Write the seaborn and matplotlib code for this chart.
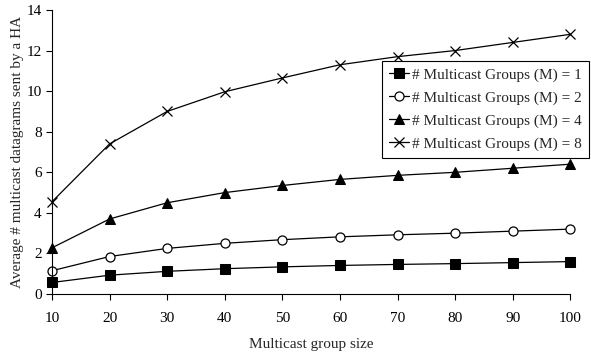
import matplotlib
matplotlib.use("Agg")
import matplotlib.pyplot as plt
import seaborn as sns
import pandas as pd

sns.set_style("ticks")
plt.rcParams['font.family'] = ['Liberation Serif', 'DejaVu Serif']

group_size = [10, 20, 30, 40, 50, 60, 70, 80, 90, 100]
m1 = [0.57, 0.93, 1.12, 1.25, 1.34, 1.41, 1.46, 1.50, 1.55, 1.60]
m2 = [1.15, 1.85, 2.25, 2.50, 2.68, 2.82, 2.92, 3.00, 3.10, 3.20]
m4 = [2.28, 3.70, 4.50, 5.00, 5.35, 5.65, 5.85, 6.00, 6.20, 6.40]
m8 = [4.55, 7.40, 9.00, 9.97, 10.65, 11.30, 11.70, 12.00, 12.40, 12.80]
labels = ["# Multicast Groups (M) = 1", "# Multicast Groups (M) = 2",
          "# Multicast Groups (M) = 4", "# Multicast Groups (M) = 8"]
x_ticks = [10, 20, 30, 40, 50, 60, 70, 80, 90, 100]
y_ticks = [0, 2, 4, 6, 8, 10, 12, 14]

fig = plt.figure(figsize=(5.91, 3.56), dpi=100)
ax = fig.add_axes([0.088, 0.174, 0.877, 0.798])

styles = [
    dict(marker='s', markersize=6.5, markerfacecolor='black', markeredgecolor='black'),
    dict(marker='o', markersize=6.5, markerfacecolor='white', markeredgecolor='black', markeredgewidth=0.9),
    dict(marker='^', markersize=7.5, markerfacecolor='black', markeredgecolor='black'),
    dict(marker='x', markersize=7.5, markeredgecolor='black', markeredgewidth=0.9),
]
for vals, lab, st in zip([m1, m2, m4, m8], labels, styles):
    df = pd.DataFrame({"x": group_size, "y": vals})
    sns.lineplot(data=df, x="x", y="y", ax=ax, color='black', linewidth=0.9,
                 label=lab, clip_on=False, **st)

ax.set_xlim(10, 100)
ax.set_ylim(0, 14)
ax.set_xticks(x_ticks)
ax.set_yticks(y_ticks)
ax.tick_params(labelsize=11, length=4, width=0.8, colors='black')
ax.tick_params(axis='x', pad=9)
ax.set_xlabel("Multicast group size", fontsize=11, labelpad=9)
ax.set_ylabel("Average # multicast datagrams sent by a HA", fontsize=11, labelpad=2)
for s in ['top', 'right']:
    ax.spines[s].set_visible(False)
for s in ['left', 'bottom']:
    ax.spines[s].set_color('black')
    ax.spines[s].set_linewidth(0.8)

leg = ax.legend(loc='upper right', bbox_to_anchor=(589/591, 1 - 61/356),
                bbox_transform=fig.transFigure, fontsize=11, frameon=True,
                fancybox=False, edgecolor='black', handlelength=1.3,
                handletextpad=0.25, borderpad=0.45, labelspacing=0.6, borderaxespad=0)
leg.get_frame().set_linewidth(0.8)
leg.get_frame().set_alpha(1)

fig.savefig("out.png", dpi=100)
